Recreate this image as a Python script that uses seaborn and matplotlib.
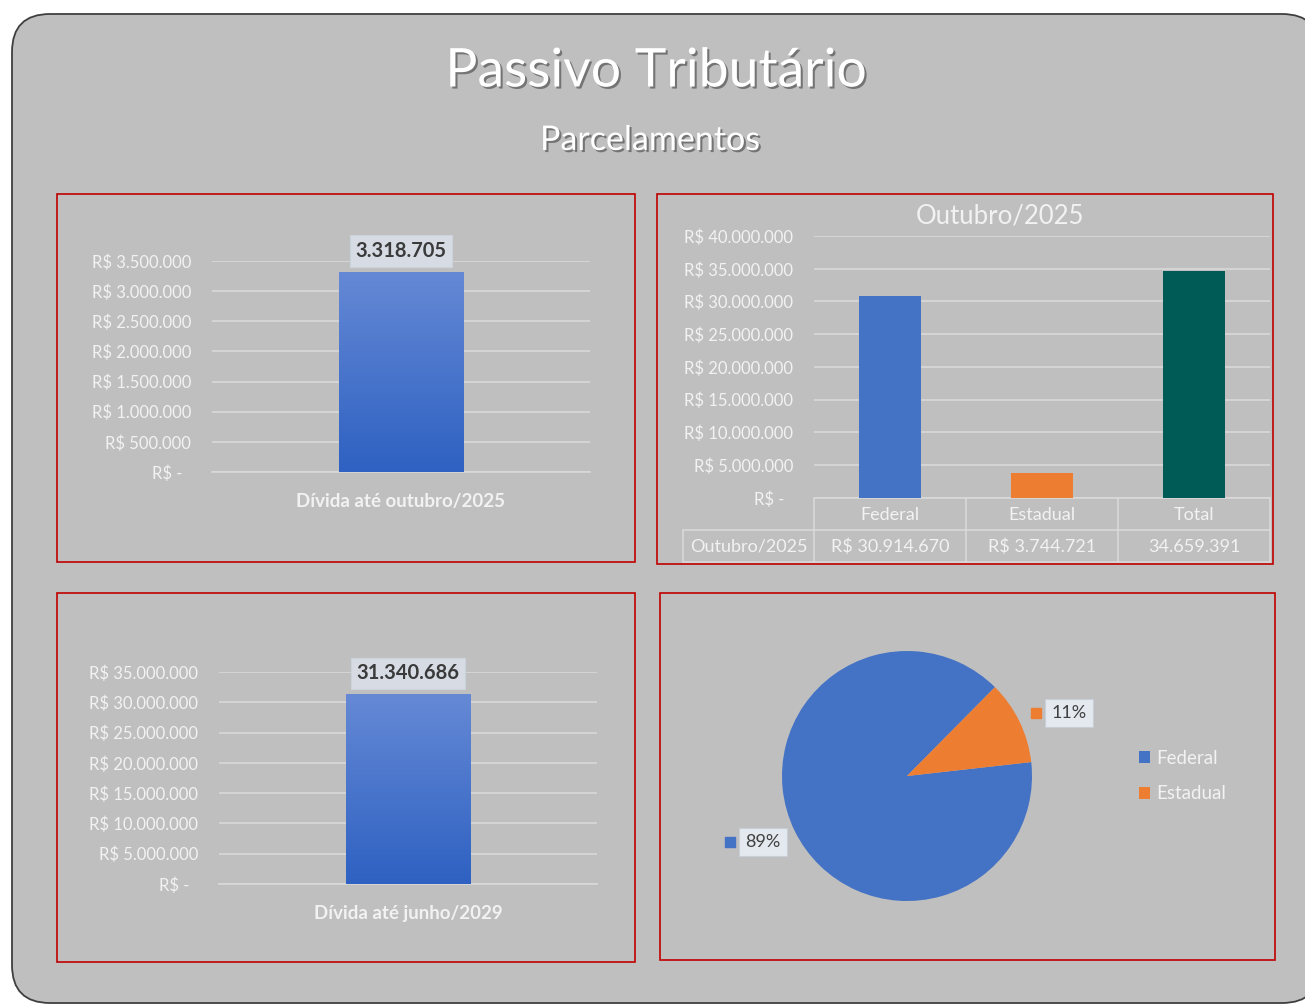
import numpy as np
import matplotlib
matplotlib.use("Agg")
import matplotlib.pyplot as plt
import seaborn as sns
from matplotlib.patches import FancyBboxPatch, Rectangle
from matplotlib.colors import LinearSegmentedColormap
import matplotlib.patheffects as pe
import matplotlib.transforms as mtransforms

# ---------------- data ----------------
title_text = "Passivo Tributário"
subtitle_text = "Parcelamentos"

debt_oct_label = ["Dívida até outubro/2025"]
debt_oct_value = [3318705]
debt_oct_ticks = [0, 500000, 1000000, 1500000, 2000000, 2500000, 3000000, 3500000]

debt_jun_label = ["Dívida até junho/2029"]
debt_jun_value = [31340686]
debt_jun_ticks = [0, 5000000, 10000000, 15000000, 20000000, 25000000, 30000000, 35000000]

month_title = "Outubro/2025"
spheres = ["Federal", "Estadual", "Total"]
sphere_values = [30914670, 3744721, 34659391]
sphere_prefix = ["R$ ", "R$ ", ""]
sphere_ticks = [0, 5000000, 10000000, 15000000, 20000000, 25000000, 30000000, 35000000, 40000000]

pie_labels = ["Federal", "Estadual"]
pie_values = [30914670, 3744721]

# ---------------- style ----------------
sns.set_style("white")
plt.rcParams['font.family'] = ['Lato', 'DejaVu Sans']

W, H = 1305, 1005
BG = "#BFBFBF"
GRID = "#D9D9D9"
TXT = "#F2F2F2"
RED = "#C00000"
BLUE = "#4472C4"
ORANGE = "#ED7D31"
TEAL = "#005A55"

fig = plt.figure(figsize=(W / 100, H / 100), dpi=100)
fig.patch.set_facecolor("white")


def add_ax(l, t, r, b, **kw):
    return fig.add_axes([l / W, 1 - b / H, (r - l) / W, (b - t) / H], **kw)


def money(v):
    if v == 0:
        return "R$ -  "
    return "R$ " + f"{v:,.0f}".replace(",", ".")


def dots(v):
    return f"{v:,.0f}".replace(",", ".")


# background overlay in pixel coords
bg = fig.add_axes([0, 0, 1, 1], zorder=-10)
bg.set_xlim(0, W)
bg.set_ylim(H, 0)
bg.axis("off")
bg.add_patch(FancyBboxPatch((12, 14), 1320 - 12, 1003 - 14,
                            boxstyle="round,pad=0,rounding_size=38",
                            facecolor=BG, edgecolor="#3F3F3F", linewidth=1.3))
for (l, t, r, b) in [(57, 194, 635, 562), (657, 194, 1273, 564),
                     (57, 593, 635, 962), (660, 593, 1275, 960)]:
    bg.add_patch(Rectangle((l, t), r - l, b - t, facecolor="none",
                           edgecolor=RED, linewidth=1.2))

shadow = [pe.SimplePatchShadow(offset=(1.5, -1.5), shadow_rgbFace="#555555", alpha=0.7),
          pe.Normal()]
bg.text(656, 72, title_text, ha="center", va="center", fontsize=38.5,
        color="white", path_effects=shadow)
bg.text(650, 140, subtitle_text, ha="center", va="center", fontsize=24.5,
        color="white", path_effects=shadow)


def gradient_bar(ax, patch, top_color, bottom_color):
    x0, y0 = patch.get_x(), patch.get_y()
    w, h = patch.get_width(), patch.get_height()
    xl, yl = ax.get_xlim(), ax.get_ylim()
    grad = np.linspace(0, 1, 256).reshape(-1, 1)
    cmap = LinearSegmentedColormap.from_list("g", [bottom_color, top_color])
    im = ax.imshow(grad, extent=[x0, x0 + w, y0, y0 + h], origin="lower",
                   cmap=cmap, aspect="auto", zorder=patch.get_zorder() + 0.1)
    im.set_clip_path(patch)
    ax.set_xlim(xl)
    ax.set_ylim(yl)


def single_bar(ax, label, value, ticks):
    sns.barplot(x=label, y=value, ax=ax, width=0.33, color=BLUE,
                saturation=1, linewidth=0, zorder=3)
    ax.set_xlim(-0.5, 0.5)
    ax.set_ylim(0, ticks[-1])
    ax.set_yticks(ticks)
    ax.set_yticklabels([money(t) for t in ticks])
    ax.patch.set_alpha(0)
    for s in ["top", "right", "left"]:
        ax.spines[s].set_visible(False)
    ax.spines["bottom"].set_color(GRID)
    ax.spines["bottom"].set_linewidth(1.2)
    ax.yaxis.grid(True, color=GRID, linewidth=1.2)
    ax.set_axisbelow(True)
    ax.tick_params(axis="y", length=0, pad=15, labelsize=12, labelcolor=TXT)
    ax.tick_params(axis="x", which="major", length=0, pad=15, labelsize=13.5,
                   labelcolor=TXT)
    for tl in ax.get_xticklabels():
        tl.set_fontweight("bold")
    ax.set_xticks([-0.5, 0.5], minor=True)
    ax.tick_params(axis="x", which="minor", length=5, width=1.2, color=GRID)
    ax.set_xlabel("")
    ax.set_ylabel("")
    bar = ax.patches[0]
    bar.set_path_effects([pe.SimplePatchShadow(offset=(0, -2), alpha=0.25), pe.Normal()])
    gradient_bar(ax, bar, "#6589D5", "#2E61C2")
    ax.text(0, value[0], dots(value[0]), ha="center", va="bottom",
            fontsize=14.5, fontweight="bold", color="#3A3A3A", zorder=5,
            clip_on=False,
            transform=ax.transData + mtransforms.ScaledTranslation(0, 11 / 100, fig.dpi_scale_trans),
            bbox=dict(boxstyle="square,pad=0.28", facecolor="#D6DBE4",
                      edgecolor="#CDD3DD", linewidth=0.8))


# ---- panel 1 ----
ax1 = add_ax(212, 261, 590, 472)
single_bar(ax1, debt_oct_label, debt_oct_value, debt_oct_ticks)

# ---- panel 3 ----
ax3 = add_ax(219, 672, 597, 884)
single_bar(ax3, debt_jun_label, debt_jun_value, debt_jun_ticks)

# ---- panel 2 ----
ax2 = add_ax(814, 236, 1270, 498)
sns.barplot(x=spheres, y=sphere_values, hue=spheres,
            palette=[BLUE, ORANGE, TEAL], width=0.41, ax=ax2, saturation=1,
            legend=False, linewidth=0, zorder=3)
ax2.set_xlim(-0.5, 2.5)
ax2.set_ylim(0, sphere_ticks[-1])
ax2.set_yticks(sphere_ticks)
ax2.set_yticklabels([money(t) for t in sphere_ticks])
ax2.patch.set_alpha(0)
for s in ["top", "right", "left", "bottom"]:
    ax2.spines[s].set_visible(False)
ax2.yaxis.grid(True, color=GRID, linewidth=1.2)
ax2.set_axisbelow(True)
ax2.tick_params(axis="y", length=0, pad=15, labelsize=12, labelcolor=TXT)
ax2.set_xticks([])
ax2.set_xlabel("")
ax2.set_ylabel("")
ax2.text(0.407, 1.077, month_title, transform=ax2.transAxes, ha="center",
         va="center", fontsize=18.5, color=TXT)

# data table under the chart
xt = ax2.get_xaxis_transform()
px = 456 / 3  # pixels per category unit
y_hdr, y_row, y_mid, y_bot = -17 / 262, -49 / 262, -32 / 262, -64 / 262
x_left = -0.5 - 131 / px
ax2.plot([-0.5, 2.5], [0, 0], color=GRID, lw=1.2, transform=xt, clip_on=False)
ax2.plot([x_left, 2.5], [y_mid, y_mid], color=GRID, lw=1.2, transform=xt, clip_on=False)
ax2.plot([x_left, 2.5], [y_bot, y_bot], color=GRID, lw=1.2, transform=xt, clip_on=False)
for xv in [-0.5, 0.5, 1.5, 2.5]:
    ax2.plot([xv, xv], [0, y_bot], color=GRID, lw=1.2, transform=xt, clip_on=False)
ax2.plot([x_left, x_left], [y_mid, y_bot], color=GRID, lw=1.2, transform=xt, clip_on=False)
for i, (name, val, pre) in enumerate(zip(spheres, sphere_values, sphere_prefix)):
    ax2.text(i, y_hdr, name, transform=xt, ha="center", va="center",
             fontsize=13, color=TXT, clip_on=False)
    ax2.text(i, y_row, pre + dots(val), transform=xt, ha="center",
             va="center", fontsize=13, color=TXT, clip_on=False)
ax2.text((x_left - 0.5) / 2, y_row, month_title, transform=xt, ha="center",
         va="center", fontsize=13, color=TXT, clip_on=False)

# ---- panel 4 (pie) ----
ax4 = add_ax(782, 651, 1032, 901)
wedges, _ = ax4.pie(pie_values, colors=[BLUE, ORANGE], startangle=6.4,
                    counterclock=False, radius=1, wedgeprops=dict(linewidth=0))
ax4.set_xlim(-1, 1)
ax4.set_ylim(-1, 1)
ax4.set_aspect("equal")
total = sum(pie_values)
pcts = [f"{round(v / total * 100)}%" for v in pie_values]
label_pos = [(-1.152, -0.528), (1.296, 0.504)]
marker_pos = [(-1.416, -0.528), (1.032, 0.504)]
for (lx, ly), (mx, my), txt, col in zip(label_pos, marker_pos, pcts, [BLUE, ORANGE]):
    ax4.text(lx, ly, txt, ha="center", va="center", fontsize=13,
             color="#404040", clip_on=False,
             bbox=dict(boxstyle="square,pad=0.35", facecolor="#E4E8EF",
                       edgecolor="#C9CFD9", linewidth=0.8))
    ax4.plot([mx], [my], marker="s", markersize=7, color=col, clip_on=False,
             linestyle="none")
ax4.legend(wedges, pie_labels, loc="center left",
           bbox_to_anchor=(1122 / W, 1 - 776 / H), bbox_transform=fig.transFigure,
           frameon=False, handlelength=0.6, handleheight=0.6,
           handletextpad=0.35, labelspacing=1.0, fontsize=13.5, labelcolor=TXT)

fig.savefig("out.png", dpi=100, facecolor="white")
